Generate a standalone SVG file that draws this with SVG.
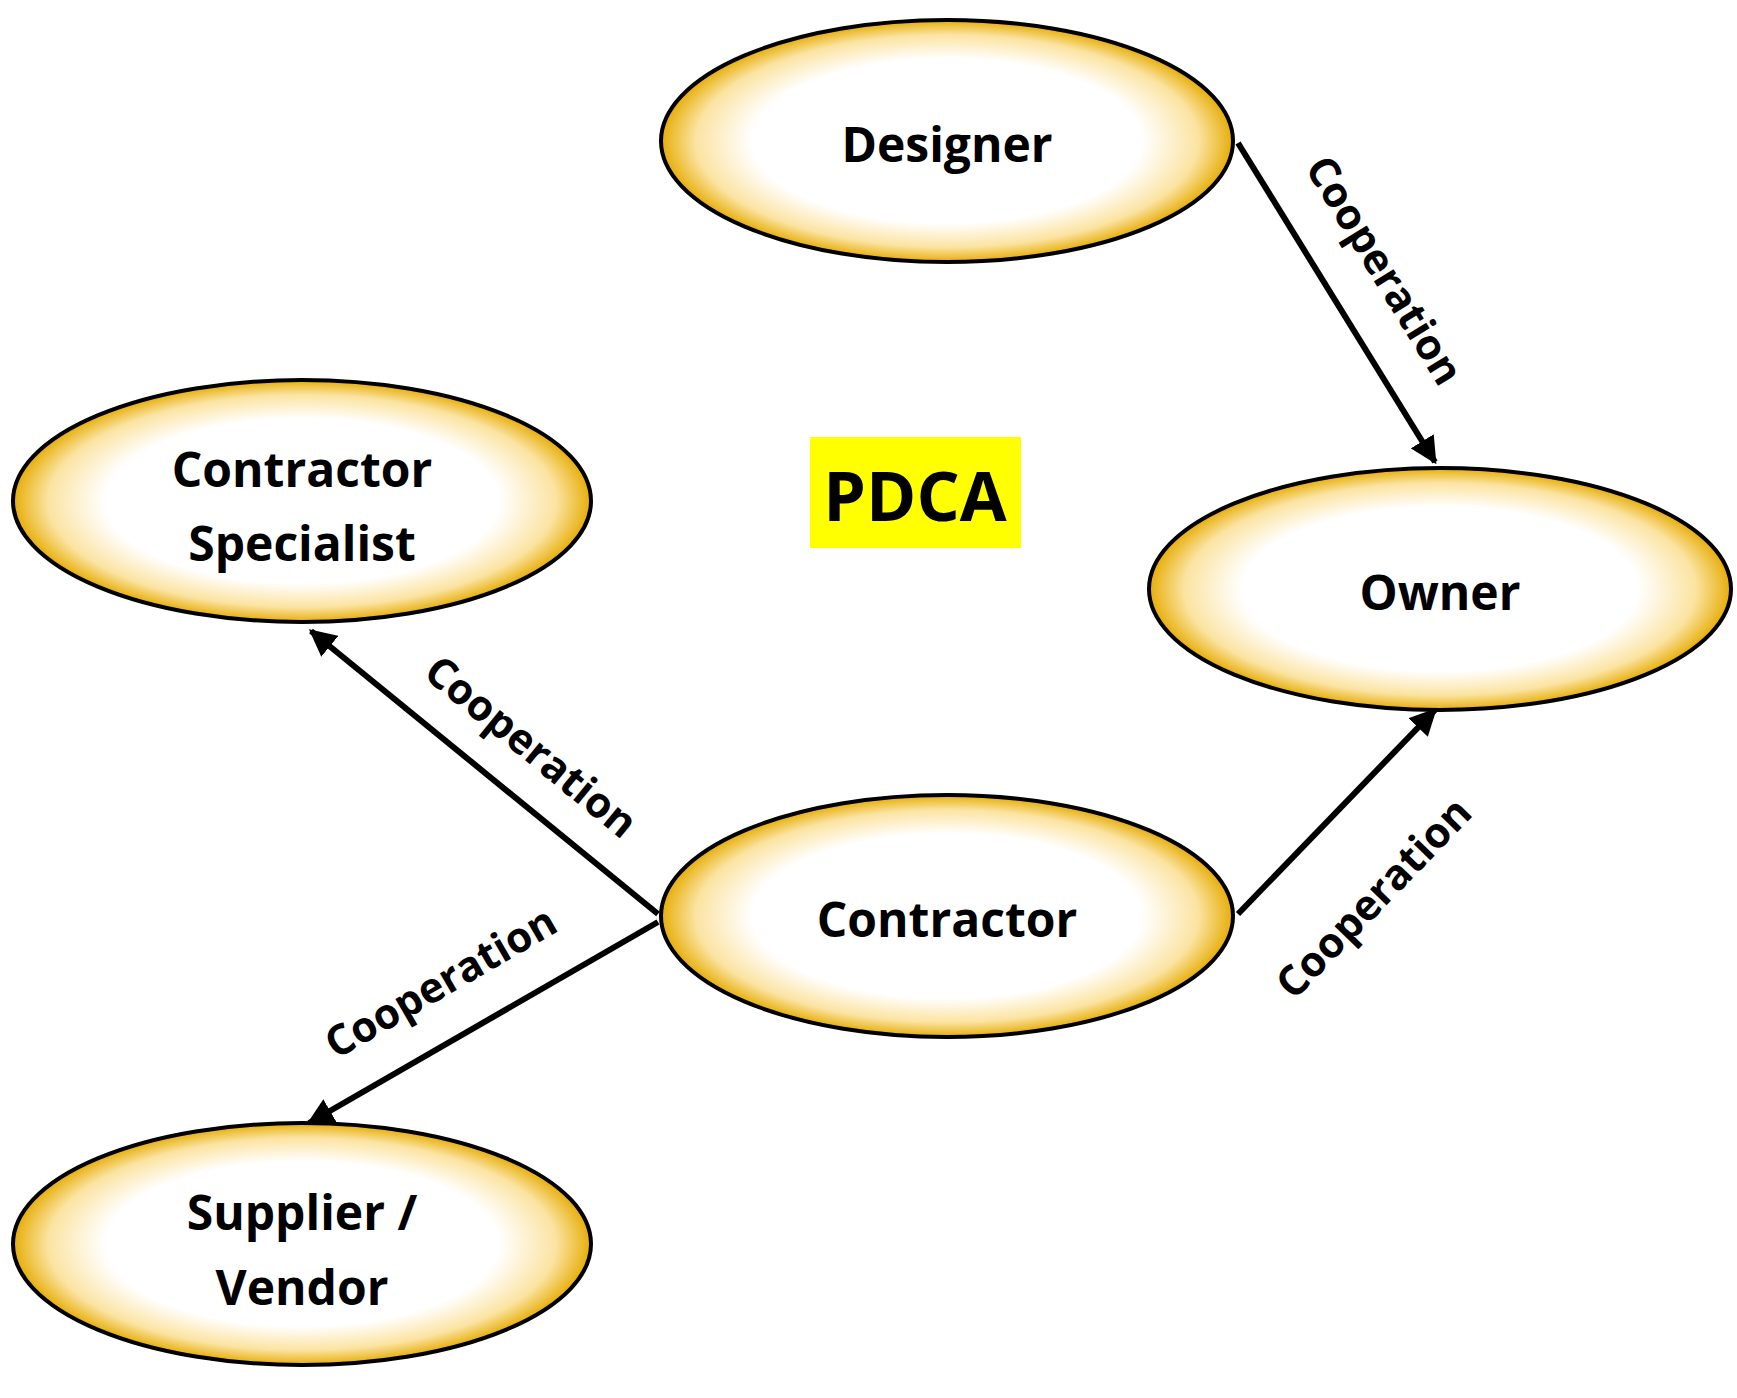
<svg xmlns="http://www.w3.org/2000/svg" width="1737" height="1398" viewBox="0 0 1737 1398">
<defs>
<radialGradient id="g" cx="50%" cy="50%" r="50%">
<stop offset="0.68" stop-color="#ffffff"/>
<stop offset="0.88" stop-color="#fbe3a0"/>
<stop offset="1" stop-color="#e6ad08"/>
</radialGradient>
<marker id="ah" viewBox="0 0 10 10" refX="9" refY="5" markerWidth="4.5" markerHeight="4.5" orient="auto">
<path d="M0,0 L10,5 L0,10 z" fill="#000"/>
</marker>
<style>
.n{fill:url(#g);stroke:#000;stroke-width:4}
.t{font-family:"Open Sans","Liberation Sans",sans-serif;font-weight:bold;font-size:48px;text-anchor:middle;fill:#000}
.l{font-family:"Open Sans","Liberation Sans",sans-serif;font-weight:bold;font-size:42px;text-anchor:middle;fill:#000}
.c{stroke:#000;stroke-width:6;fill:none;marker-end:url(#ah)}
</style>
</defs>
<rect width="1737" height="1398" fill="#fff"/>
<g id="connectors">
<line class="c" x1="1238" y1="143" x2="1435" y2="462"/>
<line class="c" x1="658" y1="914" x2="311" y2="631"/>
<line class="c" x1="658" y1="922" x2="309" y2="1123"/>
<line class="c" x1="1238" y1="914" x2="1435" y2="710"/>
<text class="l" transform="translate(1372,278) rotate(58.5)">Cooperation</text>
<text class="l" transform="translate(522,758) rotate(39.4)">Cooperation</text>
<text class="l" transform="translate(448,995) rotate(-30)">Cooperation</text>
<text class="l" transform="translate(1384,908) rotate(-46)">Cooperation</text>
</g>
<g id="designer"><ellipse class="n" cx="947" cy="141" rx="286" ry="121"/><text class="t" x="947" y="162">Designer</text></g>
<g id="specialist"><ellipse class="n" cx="302" cy="501" rx="289" ry="121"/><text class="t" x="302" y="487">Contractor</text><text class="t" x="302" y="561">Specialist</text></g>
<g id="owner"><ellipse class="n" cx="1440" cy="589" rx="291" ry="121"/><text class="t" x="1440" y="610">Owner</text></g>
<g id="contractor"><ellipse class="n" cx="947" cy="916" rx="286" ry="121"/><text class="t" x="947" y="937">Contractor</text></g>
<g id="supplier"><ellipse class="n" cx="302" cy="1244" rx="289" ry="121"/><text class="t" x="302" y="1230">Supplier /</text><text class="t" x="302" y="1305">Vendor</text></g>
<g id="pdca"><rect x="810" y="437" width="211" height="111" fill="#ffff00"/><text class="t" x="915" y="521" style="font-size:68px">PDCA</text></g>
</svg>
